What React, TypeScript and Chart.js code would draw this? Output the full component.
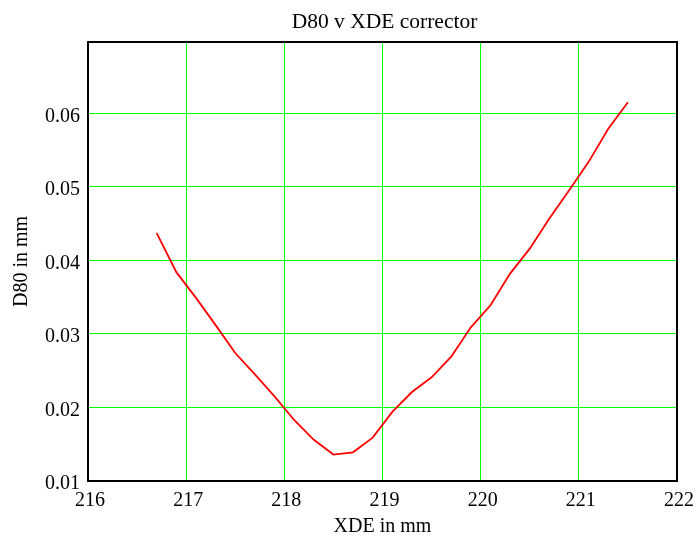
import React, { useEffect, useRef } from "react";
import { Chart, registerables } from "chart.js";

Chart.register(...registerables);

const TITLE = "D80 v XDE corrector";
const X_LABEL = "XDE in mm";
const Y_LABEL = "D80 in mm";

const xdeValues = [
  216.7, 216.9, 217.1, 217.3, 217.5, 217.7, 217.9, 218.1, 218.3, 218.5, 218.7, 218.9,
  219.1, 219.3, 219.5, 219.7, 219.9, 220.1, 220.3, 220.5, 220.7, 220.9, 221.1, 221.3, 221.5,
];
const d80Values = [
  0.0437, 0.0384, 0.0349, 0.0312, 0.0274, 0.0245, 0.0215, 0.0183, 0.0156, 0.0136, 0.0139, 0.0159,
  0.0194, 0.0221, 0.0241, 0.0269, 0.0309, 0.0339, 0.0382, 0.0416, 0.0457, 0.0495, 0.0534, 0.0579, 0.0615,
];

const X_MIN = 216;
const X_MAX = 222;
const Y_MIN = 0.01;
const Y_MAX = 0.0697;

const FONT = "'Liberation Serif', 'Times New Roman', serif";

const framePlugin = {
  id: "frame",
  afterDatasetsDraw(chart: any) {
    const { ctx, chartArea } = chart;
    ctx.save();
    ctx.strokeStyle = "#000000";
    ctx.lineWidth = 2;
    ctx.strokeRect(chartArea.left, chartArea.top, chartArea.right - chartArea.left, chartArea.bottom - chartArea.top);
    ctx.restore();
  },
};

const titlePlugin = {
  id: "centeredTitle",
  afterDraw(chart: any) {
    const { ctx, chartArea } = chart;
    ctx.save();
    ctx.fillStyle = "#000000";
    ctx.font = `21.5px ${FONT}`;
    ctx.textAlign = "center";
    ctx.textBaseline = "middle";
    ctx.fillText(TITLE, (chartArea.left + chartArea.right) / 2 + 2, 22);
    ctx.restore();
  },
};

export default function App() {
  const canvasRef = useRef<HTMLCanvasElement | null>(null);

  useEffect(() => {
    document.body.style.margin = "0";
    const canvas = canvasRef.current;
    if (!canvas) return;
    const points = xdeValues.map((x, i) => ({ x, y: d80Values[i] }));
    const chart = new Chart(canvas, {
      type: "line",
      data: {
        datasets: [
          {
            data: points,
            borderColor: "#ff0000",
            borderWidth: 1.8,
            pointRadius: 0,
            tension: 0,
            fill: false,
          },
        ],
      },
      options: {
        animation: false,
        responsive: false,
        maintainAspectRatio: false,
        layout: { autoPadding: false, padding: { left: 0, right: 19, top: 42, bottom: 0 } },
        plugins: {
          legend: { display: false },
          tooltip: { enabled: false },
          title: { display: false },
        },
        scales: {
          x: {
            type: "linear",
            min: X_MIN,
            max: X_MAX,
            ticks: {
              stepSize: 1,
              color: "#000000",
              font: { family: FONT, size: 20, lineHeight: 1.2 },
              padding: 8,
              labelOffset: 2,
              maxRotation: 0,
              callback: (v: any) => String(v),
            },
            grid: { color: "#00ff00", lineWidth: 1, drawTicks: false },
            border: { display: false },
            title: {
              display: true,
              text: X_LABEL,
              color: "#000000",
              font: { family: FONT, size: 20, lineHeight: 1 },
              padding: { top: 0, bottom: 0 },
            },
            afterFit: (scale: any) => {
              scale.height = 56;
              scale.paddingLeft = 0;
              scale.paddingRight = 0;
            },
          },
          y: {
            type: "linear",
            min: Y_MIN,
            max: Y_MAX,
            ticks: {
              stepSize: 0.01,
              includeBounds: false,
              color: "#000000",
              font: { family: FONT, size: 20, lineHeight: 1.2 },
              padding: 8,
              labelOffset: 3,
              callback: (v: any) => String(Math.round(v * 100) / 100),
            },
            grid: { color: "#00ff00", lineWidth: 1, drawTicks: false },
            border: { display: false },
            title: {
              display: true,
              text: Y_LABEL,
              color: "#000000",
              font: { family: FONT, size: 20, lineHeight: 1.2 },
              padding: { top: 10, bottom: 0 },
            },
            afterFit: (scale: any) => {
              scale.width = 88;
              scale.paddingTop = 0;
              scale.paddingBottom = 0;
            },
          },
        },
      },
      plugins: [framePlugin, titlePlugin],
    });
    return () => chart.destroy();
  }, []);

  return (
    <div style={{ position: "absolute", left: 0, top: 0, width: 696, height: 537, background: "#ffffff" }}>
      <canvas ref={canvasRef} width={696} height={537} style={{ width: 696, height: 537, display: "block" }} />
    </div>
  );
}
